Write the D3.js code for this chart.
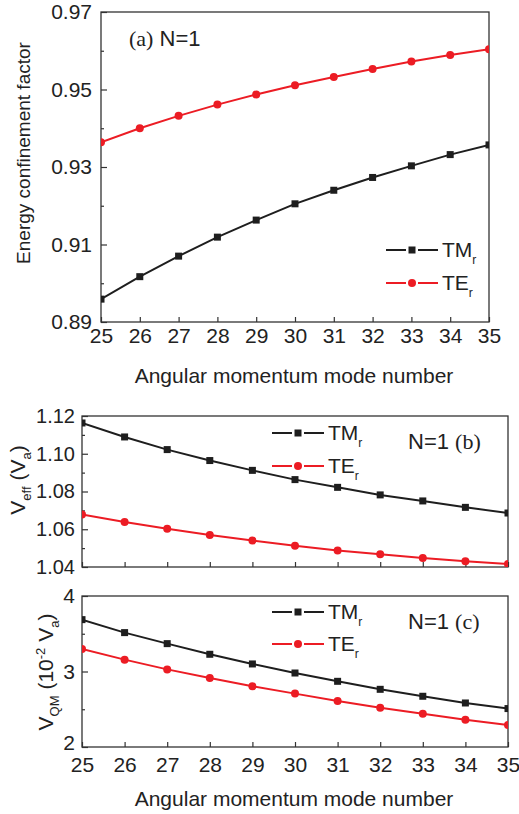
<!DOCTYPE html>
<html>
<head>
<meta charset="utf-8">
<script src="https://cdn.jsdelivr.net/npm/d3@7"></script>
<style>
  html, body { margin: 0; padding: 0; background: #fff; }
  svg { display: block; }
  text { font-family: "Liberation Sans", Arial, sans-serif; fill: #222; }
  .serif { font-family: "Liberation Serif", "Times New Roman", serif; }
</style>
</head>
<body>
<svg id="fig" width="519" height="814"></svg>
<script>
// angular momentum mode numbers
var modes = [25, 26, 27, 28, 29, 30, 31, 32, 33, 34, 35];

// (a) energy confinement factor
var aTM = [0.8959, 0.9017, 0.9070, 0.9119, 0.9163, 0.9205, 0.9240, 0.9273, 0.9303, 0.9332, 0.9357];
var aTE = [0.9364, 0.9400, 0.9432, 0.9461, 0.9487, 0.9511, 0.9532, 0.9553, 0.9572, 0.9589, 0.9604];
var aMajor = [0.89, 0.91, 0.93, 0.95, 0.97];
var aMinor = [0.90, 0.92, 0.94, 0.96];

// (b) V_eff
var bTM = [1.1163, 1.1089, 1.1022, 1.0964, 1.0912, 1.0863, 1.0822, 1.0782, 1.0750, 1.0716, 1.0686];
var bTE = [1.0678, 1.0638, 1.0603, 1.0570, 1.0540, 1.0513, 1.0488, 1.0467, 1.0448, 1.0430, 1.0416];
var bMajor = [1.04, 1.06, 1.08, 1.10, 1.12];
var bMinor = [1.05, 1.07, 1.09, 1.11];

// (c) V_QM
var cTM = [3.687, 3.515, 3.369, 3.228, 3.100, 2.980, 2.870, 2.764, 2.672, 2.583, 2.509];
var cTE = [3.298, 3.157, 3.028, 2.914, 2.804, 2.707, 2.609, 2.521, 2.441, 2.362, 2.291];
var cMajor = [2, 3, 4];
var cMinor = [2.5, 3.5];

var BLACK = '#1e1e1e';
var RED = '#ec1c24';
var svg = d3.select('#fig');

var toPts = function(vals) {
    return modes.map(function(m, i) { return {m: m, v: vals[i]}; });
};

var drawPanel = function(p) {
    var g = svg.append('g');
    var x = d3.scaleLinear().domain([25, 35]).range([p.left, p.right]);
    var y = d3.scaleLinear().domain(p.yDomain).range([p.bottom, p.top]);

    var clipId = 'clip-' + p.id;
    g.append('clipPath').attr('id', clipId)
        .append('rect')
        .attr('x', p.left).attr('y', p.top)
        .attr('width', p.right - p.left).attr('height', p.bottom - p.top);

    // axes (ticks pointing inside)
    var xAxis = d3.axisBottom(x).tickValues(modes).tickSize(-5).tickPadding(p.xPad)
        .tickFormat(p.xLabels ? d3.format('d') : function() { return ''; });
    var gx = g.append('g').attr('transform', 'translate(0,' + p.bottom + ')').call(xAxis);

    var yAxis = d3.axisLeft(y).tickValues(p.major).tickSize(-6).tickPadding(p.yPad)
        .tickFormat(d3.format(p.fmt));
    var gy = g.append('g').attr('transform', 'translate(' + p.left + ',0)').call(yAxis);
    var yMinor = d3.axisLeft(y).tickValues(p.minor).tickSize(-3).tickFormat('');
    var gym = g.append('g').attr('transform', 'translate(' + p.left + ',0)').call(yMinor);

    [gx, gy, gym].forEach(function(a) {
        a.select('.domain').remove();
        a.selectAll('line').attr('stroke', '#333').attr('stroke-width', 1.2);
        a.selectAll('text').attr('font-size', p.tickFont).attr('fill', '#222')
            .style('font-family', '"Liberation Sans", Arial, sans-serif');
    });
    // lowest y label sits a little above the corner
    gy.selectAll('text').filter(function(d) { return d === p.major[0]; })
        .attr('y', -p.lowLift);

    // frame
    g.append('rect')
        .attr('x', p.left).attr('y', p.top)
        .attr('width', p.right - p.left).attr('height', p.bottom - p.top)
        .attr('fill', 'none').attr('stroke', '#333').attr('stroke-width', 1.3);

    var line = d3.line().x(function(d) { return x(d.m); }).y(function(d) { return y(d.v); });
    var plot = g.append('g').attr('clip-path', 'url(#' + clipId + ')');

    var series = [
        {vals: p.tm, color: BLACK, shape: 'square'},
        {vals: p.te, color: RED, shape: 'circle'}
    ];
    series.forEach(function(s) {
        var pts = toPts(s.vals);
        plot.append('path').attr('d', line(pts))
            .attr('fill', 'none').attr('stroke', s.color).attr('stroke-width', 2);
        if (s.shape === 'square') {
            plot.selectAll(null).data(pts).enter().append('rect')
                .attr('x', function(d) { return x(d.m) - 3.5; })
                .attr('y', function(d) { return y(d.v) - 3.5; })
                .attr('width', 7).attr('height', 7).attr('fill', s.color);
        } else {
            plot.selectAll(null).data(pts).enter().append('circle')
                .attr('cx', function(d) { return x(d.m); })
                .attr('cy', function(d) { return y(d.v); })
                .attr('r', 4).attr('fill', s.color);
        }
    });

    // legend
    var legend = [
        {name: 'TM', color: BLACK, shape: 'square', y: p.legY[0]},
        {name: 'TE', color: RED, shape: 'circle', y: p.legY[1]}
    ];
    legend.forEach(function(l) {
        var lg = g.append('g');
        lg.append('line').attr('x1', p.legX).attr('x2', p.legX + 20)
            .attr('y1', l.y).attr('y2', l.y).attr('stroke', l.color).attr('stroke-width', 2);
        lg.append('line').attr('x1', p.legX + 32).attr('x2', p.legX + 52)
            .attr('y1', l.y).attr('y2', l.y).attr('stroke', l.color).attr('stroke-width', 2);
        if (l.shape === 'square') {
            lg.append('rect').attr('x', p.legX + 22.5).attr('y', l.y - 3.5)
                .attr('width', 7).attr('height', 7).attr('fill', l.color);
        } else {
            lg.append('circle').attr('cx', p.legX + 26).attr('cy', l.y).attr('r', 4).attr('fill', l.color);
        }
        var t = lg.append('text').attr('x', p.legX + 56).attr('y', l.y + 7).attr('font-size', 21);
        t.append('tspan').text(l.name);
        t.append('tspan').attr('font-size', 12).attr('dy', 7).text('r');
    });

    // panel label
    var lab = g.append('text').attr('x', p.labX).attr('y', p.labY).attr('font-size', 22);
    if (p.labFirst) {
        lab.append('tspan').attr('class', 'serif').text(p.tag);
        lab.append('tspan').text(' N=1');
    } else {
        lab.append('tspan').text('N=1 ');
        lab.append('tspan').attr('class', 'serif').text(p.tag);
    }
    return g;
};

drawPanel({
    id: 'a', left: 101, right: 489, top: 12, bottom: 322,
    yDomain: [0.89, 0.97], major: aMajor, minor: aMinor, fmt: '.2f',
    xLabels: true, xPad: 6, yPad: 9, tickFont: 21, lowLift: 0,
    tm: aTM, te: aTE,
    legX: 386, legY: [250, 283],
    labX: 129, labY: 46, tag: '(a)', labFirst: true
});

drawPanel({
    id: 'b', left: 82, right: 508, top: 416, bottom: 567,
    yDomain: [1.04, 1.12], major: bMajor, minor: bMinor, fmt: '.2f',
    xLabels: false, xPad: 6, yPad: 7, tickFont: 20, lowLift: 0,
    tm: bTM, te: bTE,
    legX: 272, legY: [433, 466],
    labX: 408, labY: 449, tag: '(b)', labFirst: false
});

drawPanel({
    id: 'c', left: 82, right: 508, top: 596, bottom: 747,
    yDomain: [2, 4], major: cMajor, minor: cMinor, fmt: 'd',
    xLabels: true, xPad: 10, yPad: 7, tickFont: 21, lowLift: 4,
    tm: cTM, te: cTE,
    legX: 272, legY: [612, 644],
    labX: 408, labY: 629, tag: '(c)', labFirst: false
});

// axis titles
svg.append('text').attr('x', 294).attr('y', 383).attr('text-anchor', 'middle')
    .attr('font-size', 21).text('Angular momentum mode number');
svg.append('text').attr('x', 294).attr('y', 806).attr('text-anchor', 'middle')
    .attr('font-size', 21).text('Angular momentum mode number');

svg.append('text').attr('transform', 'translate(30,153) rotate(-90)')
    .attr('text-anchor', 'middle').attr('font-size', 19).text('Energy confinement factor');

var tb = svg.append('text').attr('transform', 'translate(25,480) rotate(-90)')
    .attr('text-anchor', 'middle').attr('font-size', 21);
tb.append('tspan').text('V');
tb.append('tspan').attr('font-size', 13).attr('dy', 6).text('eff');
tb.append('tspan').attr('dy', -6).text(' (V');
tb.append('tspan').attr('font-size', 13).attr('dy', 6).text('a');
tb.append('tspan').attr('dy', -6).text(')');

var tc = svg.append('text').attr('transform', 'translate(53,672) rotate(-90)')
    .attr('text-anchor', 'middle').attr('font-size', 21);
tc.append('tspan').text('V');
tc.append('tspan').attr('font-size', 13).attr('dy', 6).text('QM');
tc.append('tspan').attr('dy', -6).text(' (10');
tc.append('tspan').attr('font-size', 13).attr('dy', -8).text('-2');
tc.append('tspan').attr('dy', 8).text(' V');
tc.append('tspan').attr('font-size', 13).attr('dy', 6).text('a');
tc.append('tspan').attr('dy', -6).text(')');
</script>
</body>
</html>
